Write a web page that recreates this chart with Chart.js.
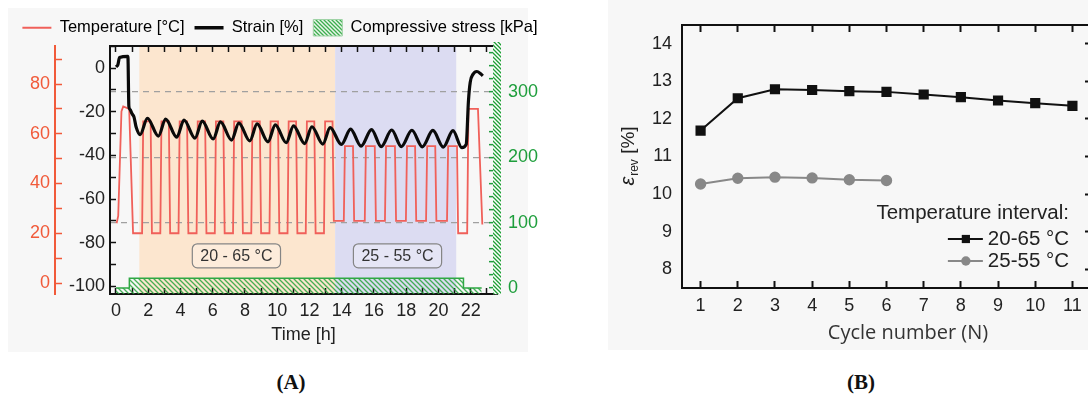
<!DOCTYPE html>
<html><head><meta charset="utf-8">
<script src="https://cdn.jsdelivr.net/npm/chart.js@4.4.0/dist/chart.umd.min.js"></script>
<style>
html,body{margin:0;padding:0;background:#fff;width:1088px;height:399px;overflow:hidden;position:relative;font-family:"Liberation Sans",Arial,sans-serif;}
#panelA{position:absolute;left:8px;top:8px;width:520px;height:344px;background:#f7f7f7;}
#panelB{position:absolute;left:608px;top:0;width:480px;height:350px;background:#f7f7f7;}
#cA{position:absolute;left:0;top:0;}
#cB{position:absolute;left:605px;top:0;}
.cap{position:absolute;top:370px;font-family:"Liberation Serif","Times New Roman",serif;font-weight:bold;font-size:21px;transform:translateX(-50%);color:#111;}
</style></head>
<body>
<div id="panelA"></div><div id="panelB"></div>
<canvas id="cA" width="560" height="352"></canvas>
<canvas id="cB" width="495" height="350"></canvas>
<div class="cap" style="left:291px">(A)</div>
<div class="cap" style="left:861px">(B)</div>
<script>
// ---------- Panel A data ----------
const tempTime = [0.04,0.14,0.34,0.45,0.82,1.06,
  1.62,1.69,2.15,2.23, 2.75,2.82,3.28,3.36, 3.88,3.95,4.41,4.49, 5.00,5.07,5.53,5.61,
  6.13,6.20,6.66,6.74, 7.26,7.33,7.79,7.87, 8.39,8.46,8.92,9.00, 9.52,9.59,10.05,10.13,
  10.64,10.71,11.17,11.25, 11.77,11.84,12.30,12.38, 12.90,12.97,13.43,13.51,
  14.13,14.20,14.70,14.77, 15.43,15.50,16.05,16.12, 16.68,16.75,17.30,17.37,
  17.98,18.05,18.55,18.62, 19.23,19.30,19.80,19.87, 20.53,20.60,21.15,21.22,
  21.78,21.86,22.45,22.72];
const tempValue = [24,27,69,71,70,20,
  20,65,65,20, 20,65,65,20, 20,65,65,20, 20,65,65,20,
  20,65,65,20, 20,65,65,20, 20,65,65,20, 20,65,65,20,
  20,65,65,20, 20,65,65,20, 20,65,65,25,
  25,55,55,25, 25,55,55,25, 25,55,55,25,
  25,55,55,25, 25,55,55,25, 25,55,55,20,
  20,70,70,23.5];
const strainTime = [0.00,0.12,0.22,0.74,0.80,0.87,1.00,1.12,1.25,1.50,
  1.95,2.63,3.08,3.77,4.22,4.90,5.35,6.03,6.48,7.17,
  7.62,8.30,8.75,9.43,9.88,10.56,11.01,11.70,12.15,12.83,
  13.28,13.98,14.55,15.20,15.85,16.45,17.10,17.70,18.35,19.00,
  19.65,20.30,20.90,21.45,21.72,21.86,21.97,22.15,22.38,22.60,22.75];
const strainValue = [0.5,1.5,4.8,5.3,-17.5,-19.0,-21.0,-22.5,-27.0,-30.5,
  -23.0,-31.2,-23.4,-31.7,-23.8,-32.1,-24.3,-32.5,-24.7,-33.0,
  -25.2,-33.4,-25.6,-33.8,-26.0,-34.2,-26.5,-34.6,-26.9,-34.9,
  -27.3,-35.0,-28.0,-35.8,-28.2,-36.0,-28.4,-36.0,-28.5,-36.1,
  -28.6,-36.2,-28.7,-36.5,-35.0,-15.0,-6.5,-2.8,-1.6,-2.5,-3.6];
const stressTime = [0, 0.83, 21.55, 22.68];
const stressValue = [0, 15, 0, 0];

const bandStart = [1.45, 13.59];
const bandEnd = [13.59, 21.1];
const bandLabels = ['20 - 65 °C', '25 - 55 °C'];
const bandLabelTime = [7.47, 17.46];
const bandLabelStrain = -86;

const timeTickValues = [0,1,2,3,4,5,6,7,8,9,10,11,12,13,14,15,16,17,18,19,20,21,22,23];
const timeLabelValues = [0,2,4,6,8,10,12,14,16,18,20,22];
const tempTickValues = [0,10,20,30,40,50,60,70,80,90];
const tempLabelValues = [0,20,40,60,80];
const strainTickValues = [-100,-90,-80,-70,-60,-50,-40,-30,-20,-10,0,10];
const strainLabelValues = [-100,-80,-60,-40,-20,0];
const stressTickValues = [0,20,40,60,80,100,120,140,160,180,200,220,240,260,280,300,320,340,360];
const stressLabelValues = [0,100,200,300];

// ---------- Panel B data ----------
const cycles = [1,2,3,4,5,6,7,8,9,10,11];
const eps2065 = [11.69,12.55,12.79,12.77,12.74,12.72,12.65,12.58,12.49,12.42,12.35];
const eps2555 = [10.27,10.42,10.45,10.43,10.38,10.36];
const cycleTickValues = [1,2,3,4,5,6,7,8,9,10,11];
const epsTickValues = [8,9,10,11,12,13,14];
const legendBTitle = 'Temperature interval:';
const xTitleB = 'Cycle number (N)';

// ---------- styles ----------
const FONT = '"Liberation Sans", Arial, sans-serif';
Chart.defaults.font.family = FONT;
const RED = '#f0605a', REDTXT = '#f15a3a', GREEN = '#1e9e3c';

function makeHatch(bg, color, size) {
  const c = document.createElement('canvas'); c.width = size; c.height = size;
  const g = c.getContext('2d');
  if (bg) { g.fillStyle = bg; g.fillRect(0,0,size,size); }
  g.strokeStyle = color; g.lineWidth = 1.3;
  g.beginPath();
  g.moveTo(-1,-1); g.lineTo(size+1,size+1);
  g.moveTo(-size/2,size/2); g.lineTo(size/2,size*1.5);
  g.moveTo(size/2,-size/2); g.lineTo(size*1.5,size/2);
  g.stroke();
  return g.createPattern(c,'repeat');
}
const hatchFill = makeHatch(null, 'rgba(40,165,60,0.85)', 5);
const hatchLegend = makeHatch('#e9f5ea', 'rgba(40,165,60,0.9)', 4);
const hatchStrip = makeHatch('#ffffff', '#1f9e35', 4);

const ptsA = (xs, ys) => xs.map((x, i) => ({x, y: ys[i]}));

const bandsPlugin = {
  id: 'bands',
  beforeDraw(chart) {
    const {ctx, chartArea: ca, scales} = chart;
    const colors = ['#fce6cf', '#dcdcf2'];
    ctx.save();
    bandStart.forEach((s, i) => {
      const x0 = scales.x.getPixelForValue(s), x1 = scales.x.getPixelForValue(bandEnd[i]);
      ctx.fillStyle = colors[i];
      ctx.fillRect(x0, ca.top, x1 - x0, ca.bottom - ca.top);
    });
    ctx.restore();
  },
  beforeDatasetsDraw(chart) {
    const {ctx, scales} = chart;
    ctx.save();
    ctx.font = '16px ' + FONT;
    ctx.textAlign = 'center'; ctx.textBaseline = 'middle';
    bandLabels.forEach((t, i) => {
      const cx = scales.x.getPixelForValue(bandLabelTime[i]);
      const cy = scales.yS.getPixelForValue(bandLabelStrain);
      const w = ctx.measureText(t).width + 16, h = 24;
      ctx.beginPath();
      ctx.roundRect(cx - w/2, cy - h/2, w, h, 5);
      ctx.fillStyle = 'rgba(255,255,255,0.25)'; ctx.fill();
      ctx.strokeStyle = '#858585'; ctx.lineWidth = 1.2; ctx.stroke();
      ctx.fillStyle = '#333'; ctx.fillText(t, cx, cy + 1);
    });
    ctx.restore();
  }
};

const setTicks = (vals) => (s) => { s.ticks = vals.map(v => ({value: v})); };

new Chart(document.getElementById('cA'), {
  type: 'line',
  data: {
    datasets: [
      {label: 'Temperature [°C]', data: ptsA(tempTime, tempValue), xAxisID: 'x', yAxisID: 'yT',
       borderColor: RED, borderWidth: 1.8, pointRadius: 0, tension: 0, order: 2},
      {label: 'Strain [%]', data: ptsA(strainTime, strainValue), xAxisID: 'x', yAxisID: 'yS',
       borderColor: '#0a0a0a', borderWidth: 3.2, pointRadius: 0, cubicInterpolationMode: 'monotone', order: 1},
      {label: 'Compressive stress [kPa]', data: ptsA(stressTime, stressValue), xAxisID: 'x', yAxisID: 'yP',
       borderColor: '#2fa844', backgroundColor: hatchFill, borderWidth: 1.5, pointRadius: 0, stepped: 'before', fill: 'start', order: 3}
    ]
  },
  options: {
    responsive: false, animation: false, devicePixelRatio: 1,
    layout: {padding: {top: 9.5, left: 0, right: 0, bottom: 0}},
    plugins: {
      tooltip: {enabled: false},
      legend: {
        position: 'top',
        labels: {
          usePointStyle: true, pointStyleWidth: 29, boxHeight: 16.5, padding: 10, color: '#333',
          font: {size: 16.5},
          generateLabels: (chart) => chart.data.datasets.map((ds, i) => ({
            text: ds.label, datasetIndex: i, hidden: false,
            pointStyle: i < 2 ? 'line' : 'rect',
            fillStyle: i === 2 ? hatchLegend : ds.borderColor,
            strokeStyle: i === 2 ? '#9fd3a6' : ds.borderColor,
            lineWidth: i === 0 ? 2 : (i === 1 ? 3.5 : 1)
          }))
        }
      }
    },
    scales: {
      x: {
        type: 'linear', position: 'bottom', min: -0.37, max: 23.63,
        afterBuildTicks: setTicks(timeTickValues),
        afterFit: (s) => { s.height = 58; },
        ticks: {autoSkip: false, maxRotation: 0, padding: 12, color: '#222', font: {size: 18},
          callback: (v) => timeLabelValues.includes(v) ? String(v) : ''},
        grid: {drawOnChartArea: false, tickLength: -6, tickColor: '#111', tickWidth: 1.5},
        border: {color: '#111', width: 2},
        title: {display: true, text: 'Time [h]', color: '#222', font: {size: 18}, padding: {top: 0, bottom: 6}}
      },
      xTop: {
        type: 'linear', position: 'top', min: -0.37, max: 23.63,
        afterBuildTicks: setTicks(timeTickValues),
        afterFit: (s) => { s.height = 0; },
        ticks: {display: false},
        grid: {drawOnChartArea: false, tickLength: -6, tickColor: '#111', tickWidth: 1.5},
        border: {color: '#111', width: 2}
      },
      yT: {
        type: 'linear', position: 'left', weight: 2, min: -4.42, max: 95.28,
        afterBuildTicks: setTicks(tempTickValues),
        afterFit: (s) => { s.width = 55; },
        ticks: {autoSkip: false, padding: 12, color: REDTXT, font: {size: 18},
          callback: (v) => tempLabelValues.includes(v) ? String(v) : ''},
        grid: {drawOnChartArea: false, tickLength: -7, tickColor: REDTXT, tickWidth: 1.5},
        border: {color: REDTXT, width: 2}
      },
      yS: {
        type: 'linear', position: 'left', weight: 1, min: -103.5, max: 10.08,
        afterBuildTicks: setTicks(strainTickValues),
        afterFit: (s) => { s.width = 55; },
        ticks: {autoSkip: false, padding: 11, color: '#222', font: {size: 18},
          callback: (v) => strainLabelValues.includes(v) ? String(v) : ''},
        grid: {drawOnChartArea: false, tickLength: -6, tickColor: '#111', tickWidth: 1.5},
        border: {color: '#111', width: 2}
      },
      yP: {
        type: 'linear', position: 'right', min: -9.2, max: 370.4,
        afterBuildTicks: setTicks(stressTickValues),
        afterFit: (s) => { s.width = 63; },
        ticks: {autoSkip: false, padding: 19, color: GREEN, font: {size: 18},
          callback: (v) => stressLabelValues.includes(v) ? String(v) : ''},
        grid: {drawOnChartArea: true, lineWidth: 1.3, tickLength: -8, tickColor: GREEN, tickWidth: 1.5,
          color: (c) => (c.tick && stressLabelValues.includes(c.tick.value) && c.tick.value > 0) ? '#a0a0a0' : 'rgba(0,0,0,0)'},
        border: {color: hatchStrip, width: 8, dash: [6, 5]}
      }
    }
  },
  plugins: [bandsPlugin]
});

// ---------- Panel B ----------
const legendBPlugin = {
  id: 'legendB',
  afterDatasetsDraw(chart) {
    const {ctx, chartArea: ca} = chart;
    ctx.save();
    ctx.font = '20.5px ' + FONT;
    ctx.fillStyle = '#222'; ctx.textBaseline = 'middle';
    const right = ca.right - 22;
    ctx.textAlign = 'right';
    ctx.fillText(legendBTitle, right, ca.top + 188);
    const w = Math.max(...chart.data.datasets.map(d => ctx.measureText(d.label).width));
    const tx = right - w;
    chart.data.datasets.forEach((ds, i) => {
      const y = ca.top + 214 + i * 22;
      ctx.strokeStyle = ds.borderColor; ctx.lineWidth = 2;
      ctx.beginPath(); ctx.moveTo(tx - 40, y); ctx.lineTo(tx - 5, y); ctx.stroke();
      ctx.fillStyle = ds.backgroundColor;
      Chart.helpers.drawPoint(ctx, {pointStyle: ds.pointStyle, radius: ds.pointRadius, rotation: 0, borderWidth: 0}, tx - 22, y);
      ctx.fillStyle = '#222'; ctx.textAlign = 'left';
      ctx.fillText(ds.label, tx, y);
    });
    ctx.restore();
  }
};
const titlesB = {
  id: 'titlesB',
  afterDraw(chart) {
    const {ctx, chartArea: ca} = chart;
    // x title
    ctx.save();
    ctx.font = '20px "Open Sans", sans-serif';
    ctx.fillStyle = '#333'; ctx.textAlign = 'center'; ctx.textBaseline = 'middle';
    ctx.fillText(xTitleB, ca.left + 226, 333);
    ctx.restore();
    // y title (epsilon with subscript)
    const f1 = 'italic 20px ' + FONT, f2 = '12px ' + FONT, f3 = '19px ' + FONT;
    ctx.save();
    ctx.translate(22, (ca.top + ca.bottom) / 2);
    ctx.rotate(-Math.PI / 2);
    ctx.fillStyle = '#222'; ctx.textBaseline = 'alphabetic'; ctx.textAlign = 'left';
    ctx.font = f1; const w1 = ctx.measureText('ε').width;
    ctx.font = f2; const w2 = ctx.measureText('rev').width;
    ctx.font = f3; const w3 = ctx.measureText(' [%]').width;
    let x = -(w1 + w2 + w3) / 2;
    ctx.font = f1; ctx.fillText('ε', x, 7); x += w1 + 1;
    ctx.font = f2; ctx.fillText('rev', x, 11); x += w2;
    ctx.font = f3; ctx.fillText(' [%]', x, 7);
    ctx.restore();
  }
};

new Chart(document.getElementById('cB'), {
  type: 'line',
  data: {
    datasets: [
      {label: '20-65 °C', data: eps2065.map((v, i) => ({x: cycles[i], y: v})),
       borderColor: '#111', backgroundColor: '#111', borderWidth: 2, pointStyle: 'rect', pointRadius: 5.8, tension: 0},
      {label: '25-55 °C', data: eps2555.map((v, i) => ({x: cycles[i], y: v})),
       borderColor: '#888', backgroundColor: '#888', borderWidth: 2, pointStyle: 'circle', pointRadius: 4.7, tension: 0}
    ]
  },
  options: {
    responsive: false, animation: false, devicePixelRatio: 1,
    layout: {padding: {top: 25, left: 0, right: 0, bottom: 0}},
    plugins: {legend: {display: false}, tooltip: {enabled: false}},
    scales: {
      x: {
        type: 'linear', position: 'bottom', min: 0.5, max: 11.5,
        afterBuildTicks: setTicks(cycleTickValues),
        afterFit: (s) => { s.height = 62; },
        ticks: {autoSkip: false, maxRotation: 0, padding: 14, color: '#222', font: {size: 18}},
        grid: {drawOnChartArea: false, tickLength: -7, tickColor: '#111', tickWidth: 2},
        border: {color: '#111', width: 2}
      },
      xTop: {
        type: 'linear', position: 'top', min: 0.5, max: 11.5,
        afterBuildTicks: setTicks(cycleTickValues),
        afterFit: (s) => { s.height = 0; },
        ticks: {display: false},
        grid: {drawOnChartArea: false, tickLength: -7, tickColor: '#111', tickWidth: 2},
        border: {color: '#111', width: 2}
      },
      y: {
        type: 'linear', position: 'left', min: 7.5, max: 14.5,
        afterBuildTicks: setTicks(epsTickValues),
        afterFit: (s) => { s.width = 77; },
        ticks: {autoSkip: false, padding: 10, color: '#222', font: {size: 18}},
        grid: {drawOnChartArea: false, drawTicks: false},
        border: {color: '#111', width: 2}
      },
      yR: {
        type: 'linear', position: 'right', min: 7.5, max: 14.5,
        afterBuildTicks: setTicks(epsTickValues),
        afterFit: (s) => { s.width = 9; },
        ticks: {display: false},
        grid: {drawOnChartArea: false, tickLength: -6, tickColor: '#111', tickWidth: 2},
        border: {color: '#111', width: 2}
      }
    }
  },
  plugins: [legendBPlugin, titlesB]
});
</script>
</body></html>
